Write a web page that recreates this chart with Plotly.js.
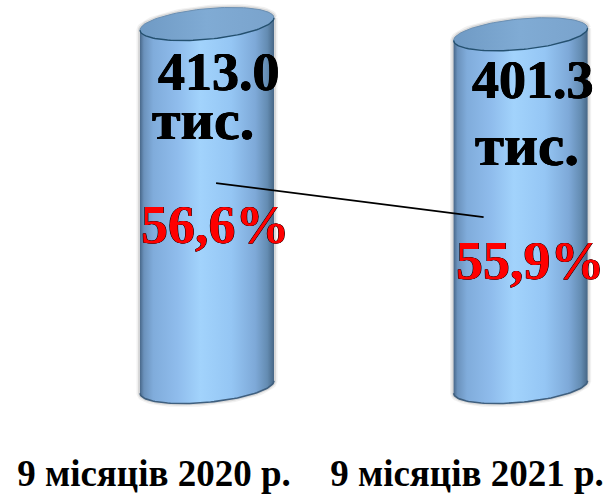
<!DOCTYPE html>
<html>
<head>
<meta charset="utf-8">
<script src="https://cdn.plot.ly/plotly-3.0.1.min.js"></script>
<style>html,body{margin:0;padding:0;background:#fff}#c{width:615px;height:497px}</style>
</head>
<body>
<div id="c"></div>
<script>
// Data
var periods = ["9 місяців 2020 р.", "9 місяців 2021 р."];
var totals = [413.0, 401.3];
var totalLabels = ["413.0", "401.3"];
var unitLabel = "тис.";
var shares = [56.6, 55.9];
var shareLabels = ["56,6%", "55,9%"];
var linePositions = [0.029, 0.882];

// Geometry of the drawing
var W = 615, H = 497, bottomMargin = 57, plotH = H - bottomMargin;
var centers = [0, 1];
var xRange = [-0.660, 1.301];
var yRange = [-60.3, 440.3];
var y2Range = [51.31, 60.37];
var halfWidth = 0.2137, rimB = 17.5, rimK = 7;
var tickPositions = [-0.169, 0.829];

var bodyScale = [[0,"#48688a"],[0.03,"#6b92bc"],[0.1,"#80acdb"],[0.28,"#8fbcec"],[0.45,"#a2d3fc"],[0.68,"#95c6f4"],[0.86,"#7ea9d8"],[0.95,"#648cb2"],[1,"#476786"]];
var rimScale = [[0,"#6f9ac4"],[0.5,"#80abd4"],[1,"#7aa3cc"]];
var thick = "0.5px 0 0 currentColor, -0.5px 0 0 currentColor, 0 0.4px 0 currentColor";

function arc(cx, cy, t0, t1) {
  var xs = [], ys = [], n = 60;
  for (var i = 0; i <= n; i++) {
    var t = t0 + (t1 - t0) * i / n;
    xs.push(cx + halfWidth * Math.cos(t));
    ys.push(cy + rimB * Math.sin(t) + rimK * Math.cos(t));
  }
  return {x: xs, y: ys};
}

var traces = [];
centers.forEach(function (cx, i) {
  var top = totals[i];
  var up = arc(cx, top, 0, Math.PI);          // far rim side, right to left
  var low = arc(cx, 0, Math.PI, 2 * Math.PI); // near bottom side, left to right
  var bx = up.x.concat(low.x, [up.x[0]]);
  var by = up.y.concat(low.y, [up.y[0]]);
  // soft shadow
  [[7,"rgba(120,120,120,0.10)"],[4,"rgba(110,110,110,0.18)"]].forEach(function (s) {
    traces.push({x: bx, y: by, mode: "lines", line: {color: s[1], width: s[0]}, hoverinfo: "skip", showlegend: false});
  });
  // body
  traces.push({x: bx, y: by, mode: "lines", fill: "toself", line: {width: 0, color: "rgba(0,0,0,0)"},
    fillgradient: {type: "horizontal", colorscale: bodyScale}, hoverinfo: "skip", showlegend: false});
  // dark bottom edge
  traces.push({x: low.x, y: low.y, mode: "lines", line: {color: "#3f5f7e", width: 1.6}, hoverinfo: "skip", showlegend: false});
  // top face
  var r = arc(cx, top, 0, 2 * Math.PI);
  traces.push({x: r.x, y: r.y, mode: "lines", fill: "toself", line: {width: 0, color: "rgba(0,0,0,0)"},
    fillgradient: {type: "horizontal", colorscale: rimScale}, hoverinfo: "skip", showlegend: false});
  var rimUp = arc(cx, top, 0, Math.PI);
  traces.push({x: rimUp.x, y: rimUp.y, mode: "lines", line: {color: "#6d90b2", width: 1}, hoverinfo: "skip", showlegend: false});
  var rimLow = arc(cx, top, Math.PI, 2 * Math.PI);
  traces.push({x: rimLow.x, y: rimLow.y, mode: "lines", line: {color: "#24506f", width: 1.4}, hoverinfo: "skip", showlegend: false});
});

// Share line
traces.push({x: linePositions, y: shares, yaxis: "y2", mode: "lines",
  line: {color: "#000", width: 1.6}, hoverinfo: "skip", showlegend: false});

// Labels (pixel anchor converted to paper fractions)
function note(text, px, py, color, size) {
  return {text: "<b>" + text + "</b>", xref: "paper", yref: "paper", x: px / W, y: 1 - py / plotH,
    xanchor: "center", yanchor: "middle", showarrow: false,
    font: {family: "'Liberation Serif', serif", size: size, color: color, shadow: thick}};
}
var annotations = [
  note(totalLabels[0], 218.5, 72, "#000", 54),
  note(unitLabel, 202.5, 120, "#000", 58),
  note(shareLabels[0], 215, 225, "#f00", 54),
  note(totalLabels[1], 533, 80, "#000", 54),
  note(unitLabel, 527, 145, "#000", 59),
  note(shareLabels[1], 530, 261, "#f00", 54)
];

var layout = {
  width: W, height: H,
  margin: {l: 0, r: 0, t: 0, b: bottomMargin, pad: 0},
  paper_bgcolor: "#fff", plot_bgcolor: "#fff",
  showlegend: false,
  xaxis: {range: xRange, showgrid: false, zeroline: false, showline: false, ticks: "",
    tickmode: "array", tickvals: tickPositions, ticktext: periods.map(function (p) { return "<b>" + p + "</b>"; }),
    tickangle: 0, ticklabelstandoff: 8,
    tickfont: {family: "'Liberation Serif', serif", size: 37, color: "#000"}},
  yaxis: {range: yRange, visible: false},
  yaxis2: {range: y2Range, visible: false, overlaying: "y"},
  annotations: annotations
};

Plotly.newPlot("c", traces, layout, {displayModeBar: false, staticPlot: true});
</script>
</body>
</html>
